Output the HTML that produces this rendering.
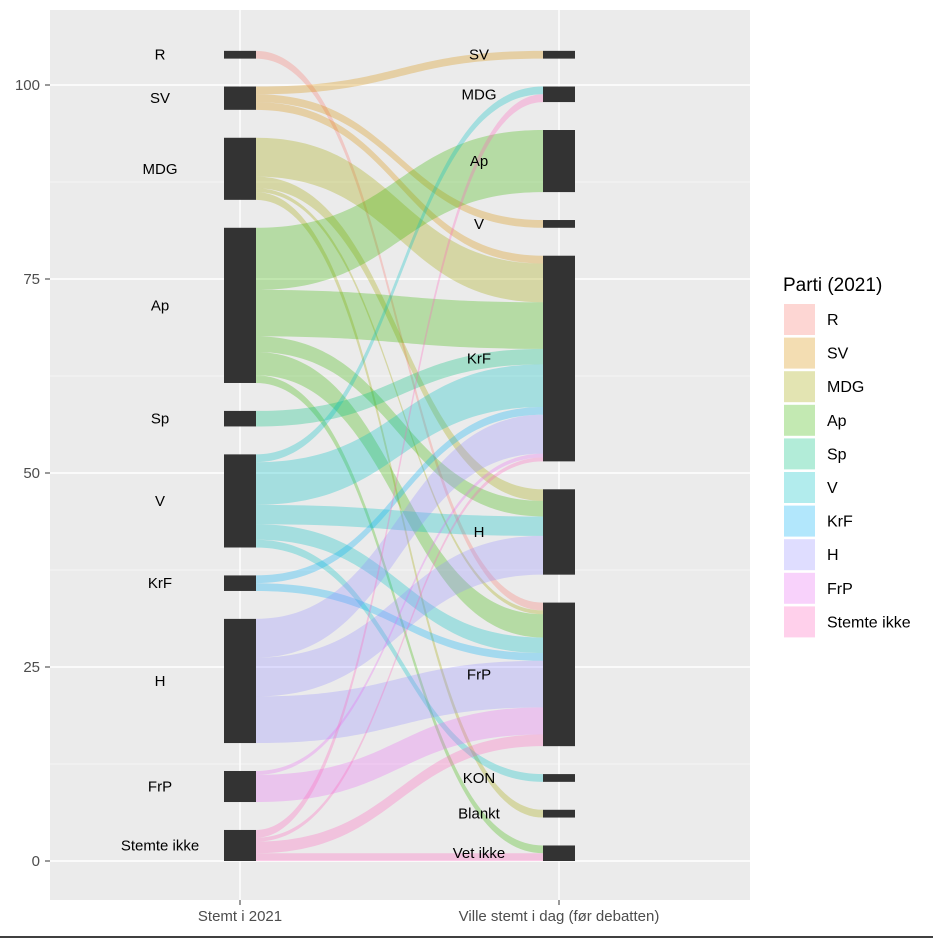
<!DOCTYPE html>
<html><head><meta charset="utf-8"><style>
body{margin:0;background:#fff;}
svg{display:block;font-family:"Liberation Sans",Arial,sans-serif;}
</style></head><body>
<svg id="c" width="933" height="939"></svg>
<script>
const leftCats=["R","SV","MDG","Ap","Sp","V","KrF","H","FrP","Stemte ikke"];
const rightCats=["SV","MDG","Ap","V","KrF","H","FrP","KON","Blankt","Vet ikke"];
const flowFrom=["R","SV","SV","SV","MDG","MDG","MDG","MDG","Ap","Ap","Ap","Ap","Ap","Sp","V","V","V","V","V","KrF","KrF","H","H","H","FrP","FrP","Stemte ikke","Stemte ikke","Stemte ikke","Stemte ikke"];
const flowTo=["FrP","SV","V","KrF","KrF","H","FrP","Blankt","Ap","KrF","H","FrP","Vet ikke","KrF","MDG","KrF","H","FrP","KON","KrF","FrP","KrF","H","FrP","KrF","FrP","MDG","KrF","FrP","Vet ikke"];
const flowVal=[1,1,1,1,5,1.5,0.5,1,8,6,2,3,1,2,1,5.5,2.5,2,1,1,1,5,5,6,0.5,3.5,1,0.5,1.5,1];
const yTicks=[0,25,50,75,100];
const legendCats=["R","SV","MDG","Ap","Sp","V","KrF","H","FrP","Stemte ikke"];
const colors={"R":"#F8766D","SV":"#D89000","MDG":"#A3A500","Ap":"#39B600","Sp":"#00BF7D","V":"#00BFC4","KrF":"#00B0F6","H":"#9590FF","FrP":"#E76BF3","Stemte ikke":"#FF62BC"};
const NS="http://www.w3.org/2000/svg";
const svg=document.getElementById('c');
function mk(t,a,p){const e=document.createElementNS(NS,t);for(const k in a)e.setAttribute(k,a[k]);(p||svg).appendChild(e);return e;}
const y=v=>861-v*7.76;
const xL=240,xR=559,bw=16,TOP=104.4,OP=0.3;
let bg=mk('rect',{x:50,y:10,width:700,height:890,fill:'#EBEBEB'});


for(let v=-12.5;v<=112.5;v+=12.5){const yy=y(v);if(yy<10||yy>900)continue;const major=v%25===0;
 let l=mk('line',{x1:50,x2:750,y1:yy,y2:yy,stroke:'#fff','stroke-width':major?1.4:0.6});
 
 }
[xL,xR].forEach(x=>{let l=mk('line',{x1:x,x2:x,y1:10,y2:900,stroke:'#fff','stroke-width':1.4});
 
 });
yTicks.forEach(t=>{let tx=mk('text',{x:40,y:y(t)+5,'text-anchor':'end','font-size':15,fill:'#4D4D4D'});tx.textContent=t;
 
 
 mk('line',{x1:45,x2:50,y1:y(t),y2:y(t),stroke:'#333'});});
function strata(cats,side){const tot={};cats.forEach(c=>tot[c]=0);
 flowVal.forEach((v,i)=>{tot[side?flowTo[i]:flowFrom[i]]+=v;});
 const sum=cats.reduce((s,c)=>s+tot[c],0);const gap=(TOP-sum)/(cats.length-1);
 let top=TOP;const r={};cats.forEach(c=>{r[c]={top:top,bot:top-tot[c],cur:top};top-=tot[c]+gap;});return r;}
const L=strata(leftCats,0),R=strata(rightCats,1);
const idx=flowVal.map((v,i)=>i);
const ordL=idx.slice().sort((a,b)=>leftCats.indexOf(flowFrom[a])-leftCats.indexOf(flowFrom[b])||rightCats.indexOf(flowTo[a])-rightCats.indexOf(flowTo[b]));
const ordR=idx.slice().sort((a,b)=>rightCats.indexOf(flowTo[a])-rightCats.indexOf(flowTo[b])||leftCats.indexOf(flowFrom[a])-leftCats.indexOf(flowFrom[b]));
const pos={};
ordL.forEach(i=>{const s=L[flowFrom[i]];pos[i]={l0:s.cur,l1:s.cur-flowVal[i]};s.cur-=flowVal[i];});
ordR.forEach(i=>{const s=R[flowTo[i]];pos[i].r0=s.cur;pos[i].r1=s.cur-flowVal[i];s.cur-=flowVal[i];});
const x0=xL+bw,x1=xR-bw,xm=(x0+x1)/2;
idx.forEach(i=>{const p=pos[i];
 const d=`M${x0},${y(p.l0)} C${xm},${y(p.l0)} ${xm},${y(p.r0)} ${x1},${y(p.r0)} L${x1},${y(p.r1)} C${xm},${y(p.r1)} ${xm},${y(p.l1)} ${x0},${y(p.l1)} Z`;
 let f=mk('path',{d:d,fill:colors[flowFrom[i]],'fill-opacity':OP});
 
 });
function drawStrata(S,cats,x,lx){cats.forEach(c=>{const s=S[c];
 let r=mk('rect',{x:x-bw,y:y(s.top),width:bw*2,height:y(s.bot)-y(s.top),fill:'#333'});
 
 
 let t=mk('text',{x:lx,y:y((s.top+s.bot)/2)+5,'text-anchor':'middle','font-size':15,fill:'#000'});t.textContent=c;
 
 });}
drawStrata(L,leftCats,xL,160);drawStrata(R,rightCats,xR,479);
[[xL,'Stemt i 2021'],[xR,'Ville stemt i dag (før debatten)']].forEach(a=>{
 mk('line',{x1:a[0],x2:a[0],y1:900,y2:905,stroke:'#333'});
 let t=mk('text',{x:a[0],y:921,'text-anchor':'middle','font-size':15,fill:'#4D4D4D'});t.textContent=a[1];
 
 });
let lt=mk('text',{x:783,y:291,'font-size':19,fill:'#000'});lt.textContent='Parti (2021)';


legendCats.forEach((c,k)=>{const yy=303+k*33.6;
 let g=mk('g',{});
 
 
 mk('rect',{x:783,y:yy,width:33,height:33,fill:'#fff'},g);
 mk('rect',{x:784,y:yy+1,width:31,height:31,fill:colors[c],'fill-opacity':OP},g);
 let t=mk('text',{x:827,y:yy+22,'font-size':16,fill:'#000'},g);t.textContent=c;});
let bl=mk('line',{x1:0,x2:933,y1:937,y2:937,stroke:'#000','stroke-width':1.5});


</script>
</body></html>
